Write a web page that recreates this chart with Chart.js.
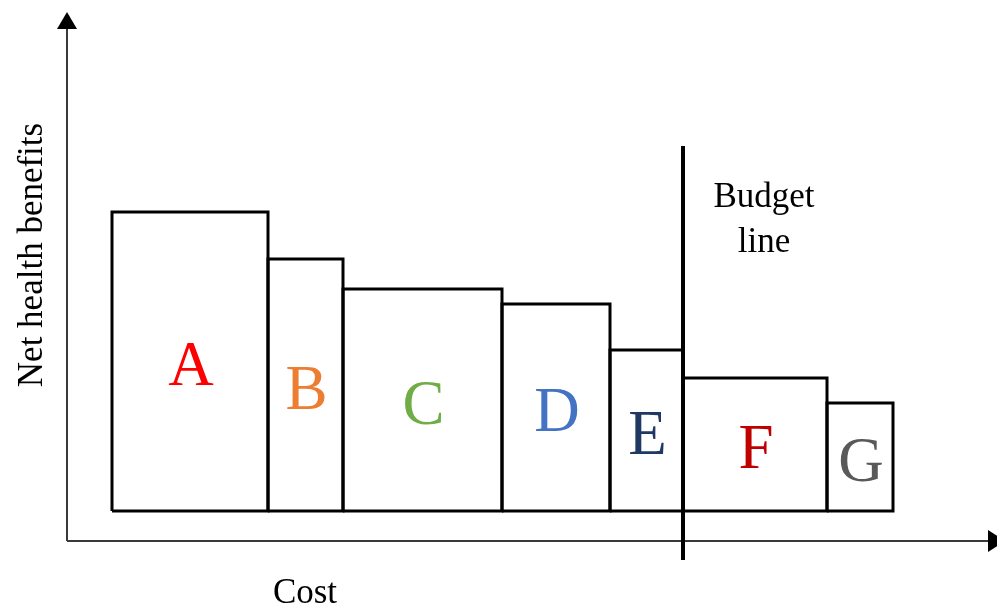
<!DOCTYPE html>
<html>
<head>
<meta charset="utf-8">
<script src="https://cdn.jsdelivr.net/npm/chart.js@4"></script>
<style>
  body { margin: 0; background: #fff; }
  #wrap { width: 997px; height: 607px; position: relative; }
</style>
</head>
<body>
<div id="wrap"><canvas id="costChart"></canvas></div>
<script>
const categories = ['A', 'B', 'C', 'D', 'E', 'F', 'G'];
const costs = [15.6, 7.5, 15.9, 10.8, 7.3, 14.4, 6.6];        // rectangle widths
const benefits = [29.9, 25.2, 22.2, 20.7, 16.1, 13.3, 10.8];  // rectangle heights
const budget = 57.1;
const budgetLineRange = [-4.9, 36.5];
const letterColors = ['#ff0000', '#ed7d31', '#70ad47', '#4472c4', '#203864', '#c00000', '#595959'];

const SERIF = '"Liberation Serif", "Times New Roman", serif';

document.addEventListener('DOMContentLoaded', () => {
  const ctx = document.querySelector('#costChart');
  if (!ctx) return

  // each programme is a closed outline: x = cumulative cost, y = net benefit
  let start = 0
  const rects = categories.map((name, i) => {
    const x0 = start, x1 = start + costs[i]
    start = x1
    return {
      label: name,
      data: [
        { x: x0, y: 0 }, { x: x0, y: benefits[i] },
        { x: x1, y: benefits[i] }, { x: x1, y: 0 }, { x: x0, y: 0 }
      ],
      borderColor: '#000',
      borderWidth: 3,
      pointRadius: 0,
      fill: false,
      tension: 0,
      borderJoinStyle: 'miter'
    }
  })

  const budgetLine = {
    label: 'Budget line',
    data: budgetLineRange.map((y) => ({ x: budget, y: y })),
    borderColor: '#000',
    borderWidth: 4,
    pointRadius: 0,
    clip: false
  }

  const decorations = {
    id: 'decorations',
    beforeDatasetsDraw(chart) {
      const c = chart.ctx
      const { left, right, top, bottom } = chart.chartArea
      c.save()
      c.strokeStyle = '#3a3a3a'
      c.fillStyle = '#000'
      c.lineWidth = 2
      c.beginPath()
      c.moveTo(left, bottom); c.lineTo(left, top + 16)
      c.moveTo(left, bottom); c.lineTo(right - 8, bottom)
      c.stroke()
      // arrow heads
      c.beginPath()
      c.moveTo(left, top); c.lineTo(left - 10, top + 17); c.lineTo(left + 10, top + 17)
      c.closePath(); c.fill()
      c.beginPath()
      c.moveTo(right + 8, bottom); c.lineTo(right - 9, bottom - 11); c.lineTo(right - 9, bottom + 11)
      c.closePath(); c.fill()
      c.restore()
    },
    afterDatasetsDraw(chart) {
      const c = chart.ctx
      const xs = chart.scales.x, ys = chart.scales.y
      c.save()
      c.textAlign = 'center'
      c.textBaseline = 'middle'
      c.font = '63px ' + SERIF
      let s = 0
      categories.forEach((name, i) => {
        const cx = xs.getPixelForValue(s + costs[i] / 2)
        const cy = ys.getPixelForValue(benefits[i] / 2)
        s += costs[i]
        c.fillStyle = letterColors[i]
        c.fillText(name, cx + 1, cy + 7)
      })

      c.fillStyle = '#000'
      c.font = '35px ' + SERIF
      c.textBaseline = 'alphabetic'
      const bx = xs.getPixelForValue(budget) + 81
      c.fillText('Budget', bx, 207)
      c.fillText('line', bx, 252)
      c.fillText('Cost', 305, 603)

      c.translate(42, 255)
      c.rotate(-Math.PI / 2)
      c.fillText('Net health benefits', 0, 0)
      c.restore()
    }
  }

  new Chart(ctx, {
    type: 'line',
    data: { datasets: [...rects, budgetLine] },
    options: {
      responsive: true,
      maintainAspectRatio: false,
      animation: false,
      layout: { padding: { left: 67, right: 0, top: 12, bottom: 66 } },
      plugins: {
        legend: { display: false },
        tooltip: { enabled: false }
      },
      scales: {
        x: { type: 'linear', min: -4.5, max: 88.5, display: false },
        y: { type: 'linear', min: -3, max: 49.9, display: false }
      }
    },
    plugins: [decorations]
  });
})
</script>
</body>
</html>
